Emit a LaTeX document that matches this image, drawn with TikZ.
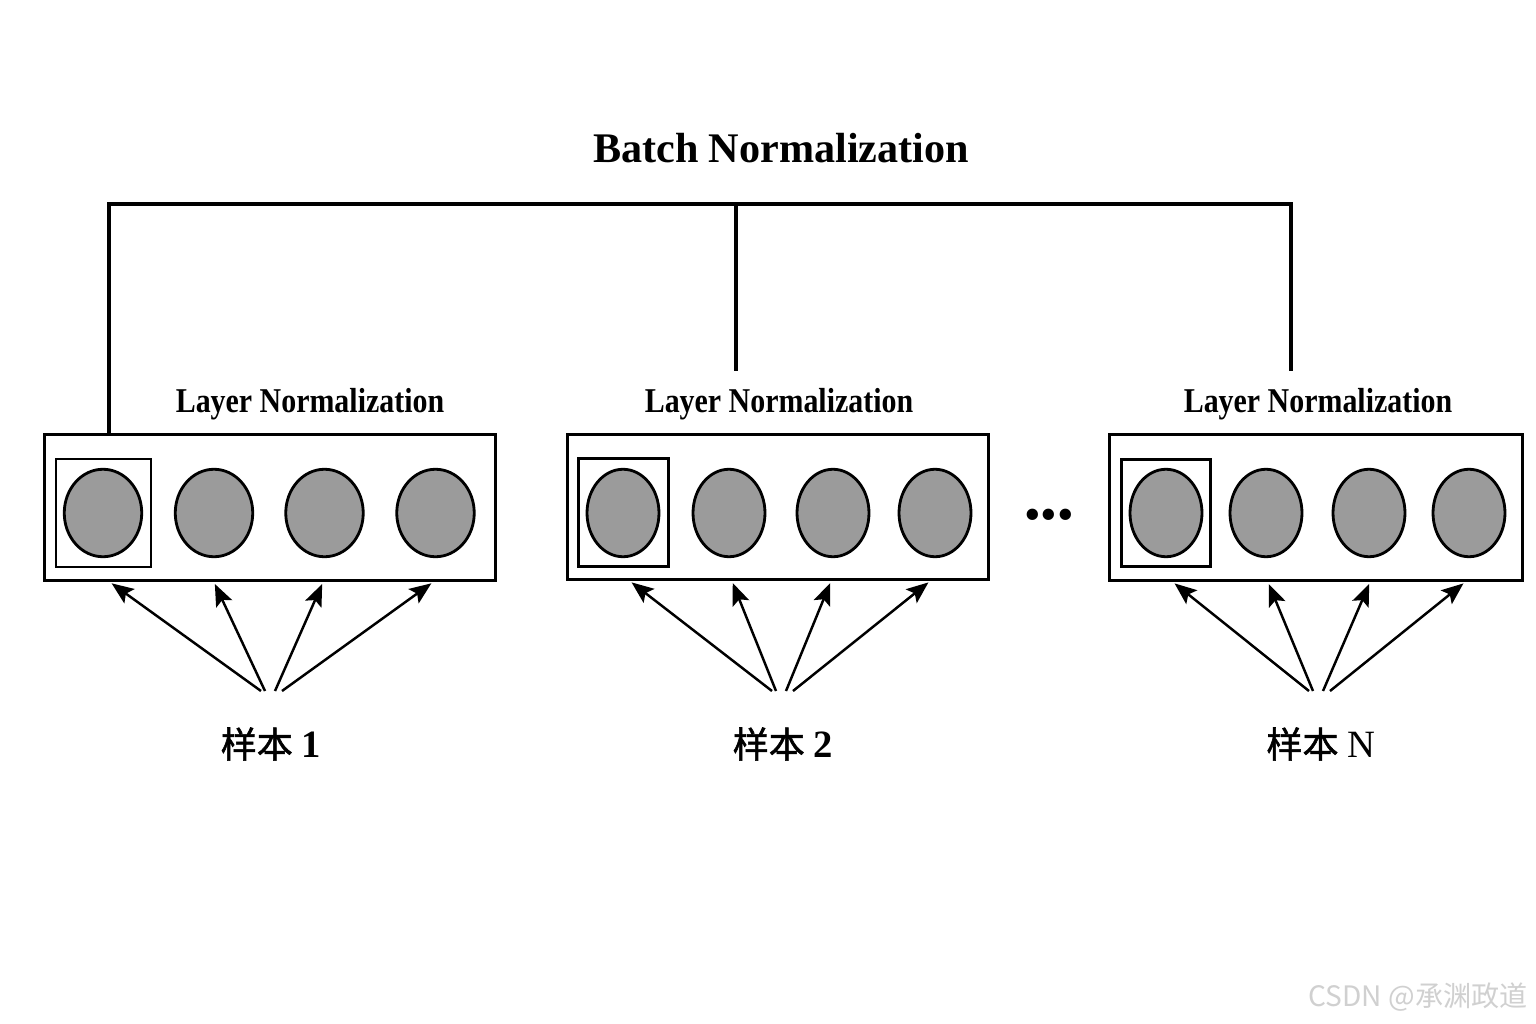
\documentclass[tikz,border=0pt]{standalone}
\usepackage{fontspec}
\setmainfont{Liberation Serif}
\newfontfamily\cjk{Noto Sans CJK SC}[FakeBold=1.5]
\newfontfamily\wmfont{Noto Sans CJK SC}
\usepackage{tikz}
\usetikzlibrary{positioning, shapes.geometric, arrows.meta}
\definecolor{cellgray}{HTML}{9B9B9B}
\definecolor{wmgray}{HTML}{D0D0D0}

\begin{document}
\begin{tikzpicture}[
                x=0.02cm, y=-0.02cm,
                sample/.style={draw=black, line width=1.9pt, rectangle, inner sep=0pt},
                pick/.style={draw=black, line width=1.6pt, rectangle, inner sep=0pt},
                cell/.style={draw=black, line width=1.6pt, ellipse, fill=cellgray, inner sep=0pt, minimum width=1.44cm, minimum height=1.75cm},
                edge/.style={line width=1.9pt},
                arrow/.style={line width=1.4pt, -{Stealth[length=12.5pt, width=10pt, inset=2.5pt]}, shorten >=0.04cm},
                bnlabel/.style={font=\fontsize{24}{28}\selectfont\bfseries},
                lnlabel/.style={font=\fontsize{19.8}{22}\selectfont\bfseries, xscale=0.86},
                smplabel/.style={font=\fontsize{20.5}{24}\selectfont},
                wmlabel/.style={font=\wmfont\fontsize{16}{19}\selectfont, text=wmgray}
            ]
            \useasboundingbox[fill=white] (0,0) rectangle (1536,1024);

            % Knoten
            \node[bnlabel] (bn) at (781,148) {Batch Normalization};

            \node[sample, minimum width=9.02cm, minimum height=2.92cm] (b1) at (270,507.5) {};
            \node[sample, minimum width=8.42cm, minimum height=2.9cm] (b2) at (778,507) {};
            \node[sample, minimum width=8.26cm, minimum height=2.92cm] (b3) at (1316,507.5) {};

            \node[lnlabel] (l1) at (310,404) {Layer Normalization};
            \node[lnlabel] (l2) at (779,404) {Layer Normalization};
            \node[lnlabel] (l3) at (1318,404) {Layer Normalization};

            \node[pick, minimum width=1.9cm, minimum height=2.16cm] (q1) at (103.5,513) {};
            \node[pick, minimum width=1.8cm, minimum height=2.15cm] (q2) at (623.5,512.5) {};
            \node[pick, minimum width=1.78cm, minimum height=2.13cm] (q3) at (1166,513) {};

            \node[cell, minimum width=1.55cm] (e11) at (103,513) {};
            \node[cell, minimum width=1.55cm] (e12) at (214,513) {};
            \node[cell, minimum width=1.55cm] (e13) at (324.5,513) {};
            \node[cell, minimum width=1.55cm] (e14) at (435.5,513) {};
            \node[cell] (e21) at (623,513) {};
            \node[cell] (e22) at (729,513) {};
            \node[cell] (e23) at (833,513) {};
            \node[cell] (e24) at (935,513) {};
            \node[cell] (e31) at (1166,513) {};
            \node[cell] (e32) at (1266,513) {};
            \node[cell] (e33) at (1369,513) {};
            \node[cell] (e34) at (1469,513) {};

            \node[font=\fontsize{27}{30}\selectfont, inner sep=0pt] (dots) at (1049,520) {\textbullet\textbullet\textbullet};

            \node[smplabel] (s1) at (271,744) {{\cjk 样本} \textbf{\fontsize{22}{24}\selectfont 1}};
            \node[smplabel] (s2) at (783,744) {{\cjk 样本} \textbf{\fontsize{22}{24}\selectfont 2}};
            \node[smplabel] (s3) at (1321,744) {{\cjk 样本} {\fontsize{22}{24}\selectfont N}};

            \node[wmlabel] (wm) at (1418,997) {CSDN @承渊政道};

            \coordinate (j0) at (109,204);
            \coordinate (j1) at (736,204);
            \coordinate (j2) at (1291,204);
            \coordinate (k1) at (736,371);
            \coordinate (k2) at (1291,371);
            \coordinate (p1) at (271,691);
            \coordinate (p2) at (782,691);
            \coordinate (p3) at (1319,691);

            % Kanten
            \draw[edge] (b1.north -| j0) -- (j0) -- (j2) -- (k2);
            \draw[edge] (j1) -- (k1);

            \draw[arrow] ([xshift=-0.2cm]p1) -- ([xshift=0.14cm]e11 |- b1.south);
            \draw[arrow] ([xshift=-0.12cm]p1) -- (e12 |- b1.south);
            \draw[arrow] ([xshift=0.08cm]p1) -- ([xshift=-0.03cm]e13 |- b1.south);
            \draw[arrow] ([xshift=0.22cm]p1) -- ([xshift=-0.05cm]e14 |- b1.south);

            \draw[arrow] ([xshift=-0.2cm]p2) -- ([xshift=0.14cm]e21 |- b2.south);
            \draw[arrow] ([xshift=-0.12cm]p2) -- ([xshift=0.06cm]e22 |- b2.south);
            \draw[arrow] ([xshift=0.08cm]p2) -- ([xshift=-0.04cm]e23 |- b2.south);
            \draw[arrow] ([xshift=0.22cm]p2) -- ([xshift=-0.1cm]e24 |- b2.south);

            \draw[arrow] ([xshift=-0.2cm]p3) -- ([xshift=0.14cm]e31 |- b3.south);
            \draw[arrow] ([xshift=-0.12cm]p3) -- ([xshift=0.04cm]e32 |- b3.south);
            \draw[arrow] ([xshift=0.08cm]p3) -- ([xshift=0.02cm]e33 |- b3.south);
            \draw[arrow] ([xshift=0.22cm]p3) -- ([xshift=-0.08cm]e34 |- b3.south);

\end{tikzpicture}
\end{document}
